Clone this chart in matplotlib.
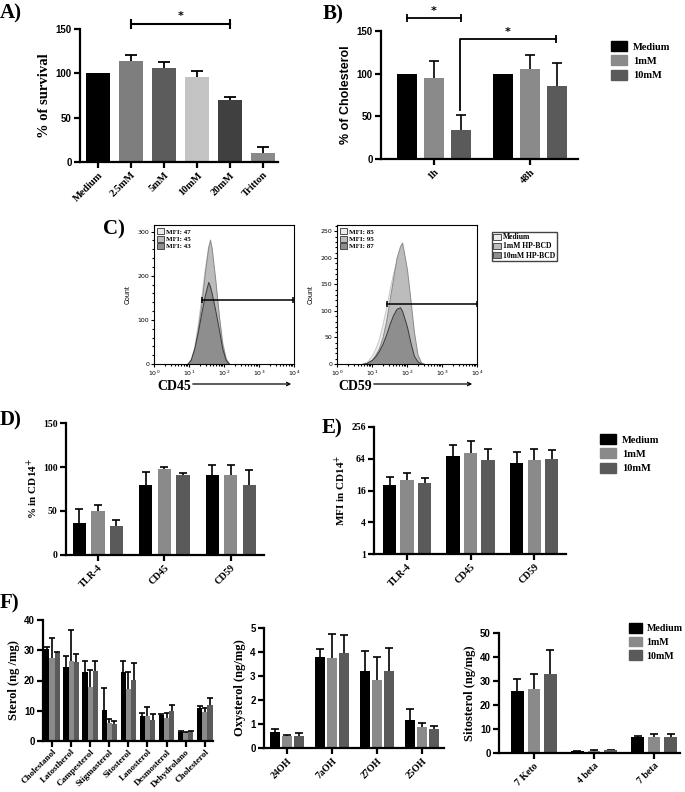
import numpy as np
import matplotlib
matplotlib.use("Agg")
from matplotlib import pyplot as plt
from matplotlib.patches import Patch, FancyArrowPatch
from matplotlib.ticker import FixedLocator, MultipleLocator, NullFormatter

SERIF = "Liberation Serif"
SANS = "Liberation Sans"

# ---- data ----
# A) survival
a_cats = ["Medium", "2.5mM", "5mM", "10mM", "20mM", "Tritton"]
a_vals = [100, 114, 106, 96, 70, 10]
a_err = [0, 7, 7, 7, 3, 7]
a_cols = ["#000000", "#7e7e7e", "#5c5c5c", "#c4c4c4", "#404040", "#8a8a8a"]

# B) cholesterol
b_cats = ["1h", "48h"]
b_medium = [100, 100]
b_1mm = [95, 106]
b_10mm = [34, 86]
b_medium_err = [0, 0]
b_1mm_err = [20, 16]
b_10mm_err = [18, 26]

series_names = ["Medium", "1mM", "10mM"]
series_cols = ["#000000", "#8a8a8a", "#5a5a5a"]

# C) flow histograms (log10 fluorescence, counts)
cd45_logx = [0.95, 1.05, 1.15, 1.25, 1.35, 1.45, 1.55, 1.6, 1.65, 1.75, 1.85, 1.95, 2.05, 2.15]
cd45_medium = [0, 12, 40, 90, 150, 215, 268, 272, 250, 185, 110, 50, 14, 0]
cd45_1mm = [0, 8, 32, 78, 135, 205, 265, 282, 262, 192, 112, 45, 11, 0]
cd45_10mm = [0, 10, 35, 72, 115, 155, 186, 176, 160, 122, 80, 35, 9, 0]
cd45_mfi = [47, 45, 43]
cd45_gate = [1.37, 3.97, 145]

cd59_logx = [0.7, 0.85, 1.0, 1.1, 1.2, 1.3, 1.4, 1.5, 1.6, 1.7, 1.8, 1.86, 1.9, 2.0, 2.1, 2.2, 2.3, 2.4, 2.5]
cd59_medium = [0, 4, 16, 30, 48, 75, 105, 140, 170, 195, 210, 214, 205, 160, 100, 50, 15, 3, 0]
cd59_1mm = [0, 2, 8, 18, 30, 50, 80, 120, 160, 200, 222, 229, 215, 178, 120, 60, 18, 3, 0]
cd59_10mm = [0, 2, 8, 15, 25, 38, 55, 75, 92, 104, 107, 100, 92, 70, 40, 15, 5, 1, 0]
cd59_mfi = [85, 95, 87]
cd59_gate = [1.44, 4.0, 113]

# D) % in CD14+
d_cats = ["TLR-4", "CD45", "CD59"]
d_medium = [36, 79, 91]
d_1mm = [50, 98, 91]
d_10mm = [33, 91, 80]
d_medium_err = [16, 15, 11]
d_1mm_err = [7, 2, 11]
d_10mm_err = [7, 2, 17]

# E) MFI in CD14+
e_medium = [20, 72, 53]
e_1mm = [25, 82, 60]
e_10mm = [22, 60, 63]
e_medium_err = [9, 44, 32]
e_1mm_err = [9, 55, 37]
e_10mm_err = [5.5, 37, 30]

# F) sterols
f1_cats = ["Cholestanol", "Latostherol", "Campesterol", "Stigmasterol", "Sitosterol",
           "Lanosterol", "Desmosterol", "Dehydrolano", "Cholesterol"]
f1_medium = [30.3, 24.5, 22.7, 10.3, 22.8, 8.1, 8.6, 3.0, 11.0]
f1_1mm = [27.5, 26.3, 17.8, 5.9, 17.2, 8.3, 7.6, 2.6, 9.5]
f1_10mm = [29.0, 26.2, 23.2, 5.6, 20.3, 7.0, 10.0, 2.9, 12.0]
f1_medium_err = [0.7, 3.5, 3.6, 7.3, 3.7, 1.2, 0.4, 0.2, 0.6]
f1_1mm_err = [6.5, 10.4, 5.8, 1.3, 5.7, 2.9, 1.7, 0.3, 1.3]
f1_10mm_err = [0.3, 2.5, 3.3, 0.9, 5.4, 2.0, 1.8, 0.5, 2.3]

f2_cats = ["24OH", "7aOH", "27OH", "25OH"]
f2_medium = [0.68, 3.8, 3.2, 1.17]
f2_1mm = [0.5, 3.75, 2.82, 0.87]
f2_10mm = [0.5, 3.95, 3.2, 0.8]
f2_medium_err = [0.12, 0.32, 0.85, 0.46]
f2_1mm_err = [0.05, 1.02, 0.98, 0.18]
f2_10mm_err = [0.12, 0.75, 0.95, 0.1]

f3_cats = ["7 Keto", "4 beta", "7 beta"]
f3_medium = [26, 0.8, 6.6]
f3_1mm = [26.5, 0.9, 6.6]
f3_10mm = [33, 1.1, 6.8]
f3_medium_err = [5, 0.2, 0.6]
f3_1mm_err = [6.3, 0.3, 1.2]
f3_10mm_err = [10, 0.3, 1.3]

# ---- figure ----
W, H = 685, 792
fig = plt.figure(figsize=(W / 100, H / 100), dpi=100)


def box(x0, x1, y0, y1):
    return [x0 / W, 1 - y1 / H, (x1 - x0) / W, (y1 - y0) / H]


def prism(ax, tickfont=SANS, tsize=7):
    for s in ["top", "right"]:
        ax.spines[s].set_visible(False)
    for s in ["left", "bottom"]:
        ax.spines[s].set_linewidth(1.6)
    ax.tick_params(direction="out", length=4, width=1.6, labelsize=tsize, pad=2)
    for lab in ax.get_yticklabels():
        lab.set_fontfamily(tickfont)
        lab.set_fontweight("bold")


def xlabels(ax, cats, size=7.5):
    ax.set_xticks(np.arange(len(cats)))
    ax.set_xticklabels(cats, rotation=45, ha="right", rotation_mode="anchor",
                       fontfamily=SERIF, fontweight="bold", fontsize=size)


def upbars(ax, xs, vals, errs, cap=6, lw=1.2):
    # GraphPad style: only the upper half of the error bar
    xs, vals, errs = np.asarray(xs), np.asarray(vals, float), np.asarray(errs, float)
    m = errs > 0
    ax.vlines(xs[m], vals[m], vals[m] + errs[m], color="black", lw=lw, zorder=1)
    ax.plot(xs[m], vals[m] + errs[m], ls="none", marker="_", ms=cap, mew=lw,
            color="black", zorder=1)


def grouped(ax, vals, errs, off, width, cap=6):
    for k in range(3):
        xs = np.arange(len(vals[k])) + (k - 1) * off
        bottom = ax.get_ylim()[0] if ax.get_yscale() == "log" else 0
        ax.bar(xs, np.array(vals[k]) - bottom, width, bottom=bottom,
               color=series_cols[k], zorder=2)
        upbars(ax, xs, vals[k], errs[k], cap)


def bold_legend(x, y, size=7.5, hl=1.5, pad=0.6):
    handles = [Patch(color=c) for c in series_cols]
    fig.legend(handles, series_names, loc="upper left", bbox_to_anchor=(x / W, 1 - y / H),
               frameon=False, handlelength=hl, handleheight=1.1, labelspacing=0.35,
               handletextpad=pad, borderpad=0,
               prop={"family": SERIF, "weight": "bold", "size": size})


def panel_label(x, y, s):
    fig.text(x / W, 1 - y / H, s, fontfamily=SERIF, fontweight="bold", fontsize=15,
             va="center", ha="left")


# A
ax = fig.add_axes(box(80, 278, 29, 162))
x = np.arange(len(a_cats))
ax.bar(x, a_vals, 0.73, color=a_cols, zorder=2)
upbars(ax, x, a_vals, a_err, cap=8, lw=1.3)
ax.set_xlim(-0.55, 5.45)
ax.set_ylim(0, 150)
ax.set_yticks([0, 50, 100, 150])
prism(ax)
xlabels(ax, a_cats)
ax.set_ylabel("% of survival", fontfamily=SERIF, fontweight="bold", fontsize=10.5, labelpad=3)
ax.plot([1, 4], [156, 156], color="black", lw=1.5, clip_on=False)
ax.plot([1, 4], [156, 156], ls="none", marker="|", ms=7, mew=1.5, color="black", clip_on=False)
ax.text(2.5, 159, "*", ha="center", va="bottom", fontsize=8, fontweight="bold")
panel_label(0, 13, "A)")

# B
ax = fig.add_axes(box(381, 578, 31, 159))
ax.set_xlim(-0.55, 1.5)
ax.set_ylim(0, 150)
grouped(ax, [b_medium, b_1mm, b_10mm], [b_medium_err, b_1mm_err, b_10mm_err], 0.28, 0.21, cap=7)
ax.set_yticks([0, 50, 100, 150])
prism(ax)
xlabels(ax, b_cats)
ax.set_ylabel("% of Cholesterol", fontfamily=SANS, fontweight="bold", fontsize=9, labelpad=3)
ax.plot([-0.28, 0.28], [165, 165], color="black", lw=1.3, clip_on=False)
ax.plot([-0.28, 0.28], [165, 165], ls="none", marker="|", ms=6, mew=1.3, color="black", clip_on=False)
ax.text(0, 167, "*", ha="center", va="bottom", fontsize=8, fontweight="bold")
ax.plot([0.27, 0.27, 1.27], [58, 141, 141], color="black", lw=1.3, clip_on=False)
ax.plot([1.27], [141], ls="none", marker="|", ms=6, mew=1.3, color="black", clip_on=False)
ax.text(0.77, 143, "*", ha="center", va="bottom", fontsize=8, fontweight="bold")
bold_legend(606, 36)
panel_label(323, 14, "B)")

# C
hist_cols = [("#ececec", "#c8c8c8"), ("#bcbcbc", "#8a8a8a"), ("#8e8e8e", "#3a3a3a")]
hist_sets = [
    (box(154, 294, 225, 364), cd45_logx, [cd45_medium, cd45_1mm, cd45_10mm], 315,
     [0, 100, 200, 300], 20, cd45_mfi, cd45_gate, "CD45", 157),
    (box(337, 477, 225, 364), cd59_logx, [cd59_medium, cd59_1mm, cd59_10mm], 262,
     [0, 50, 100, 150, 200, 250], 10, cd59_mfi, cd59_gate, "CD59", 338),
]
for pos, lx, curves, ymax, yt, ymin_step, mfi, gate, name, tx in hist_sets:
    ax = fig.add_axes(pos)
    xs = 10 ** np.array(lx)
    for counts, (fc, ec) in zip(curves, hist_cols):
        ax.fill_between(xs, counts, color=fc, edgecolor=ec, lw=0.7)
    ax.set_xscale("log")
    ax.set_xlim(1, 1e4)
    ax.set_ylim(0, ymax)
    ax.set_yticks(yt)
    ax.yaxis.set_minor_locator(MultipleLocator(ymin_step))
    ax.set_xticks([1, 10, 100, 1000, 10000])
    ax.set_xticklabels(["$10^{0}$", "$10^{1}$", "$10^{2}$", "$10^{3}$", "$10^{4}$"])
    ax.tick_params(which="both", direction="out", labelsize=4.5, width=0.8, length=2.5, pad=1)
    ax.tick_params(which="minor", length=1.5)
    for s in ax.spines.values():
        s.set_linewidth(0.8)
    ax.set_ylabel("Count", fontfamily=SANS, fontsize=5, labelpad=4)
    ax.plot([10 ** gate[0], 10 ** gate[1]], [gate[2], gate[2]], color="black", lw=1.1)
    ax.plot([10 ** gate[0], 10 ** gate[1]], [gate[2], gate[2]], ls="none", marker="|",
            ms=5, mew=1.1, color="black")
    handles = [Patch(facecolor=fc, edgecolor="#333333", lw=0.6) for fc, _ in hist_cols]
    ax.legend(handles, ["MFI: %d" % m for m in mfi], loc="upper left", frameon=False,
              handlelength=1.0, handleheight=0.9, labelspacing=0.15, handletextpad=0.2,
              borderpad=0.3, borderaxespad=0.2,
              prop={"family": SERIF, "weight": "bold", "size": 5})
    fig.text(tx / W, 1 - 386 / H, name, fontfamily=SERIF, fontweight="bold", fontsize=10,
             va="center", ha="left")
    fig.add_artist(FancyArrowPatch(
        ((tx + 33) / W, 1 - 384 / H), ((tx + 137) / W, 1 - 384 / H),
        transform=fig.transFigure, arrowstyle="->", mutation_scale=6, lw=0.9, color="black"))

leg_handles = [Patch(facecolor=fc, edgecolor="#333333", lw=0.6) for fc, _ in hist_cols]
fig.legend(leg_handles, ["Medium", "1mM HP-BCD", "10mM HP-BCD"], loc="upper left",
           bbox_to_anchor=(488 / W, 1 - 228 / H), frameon=True, fancybox=False,
           edgecolor="#444444", framealpha=1, handlelength=1.0, handleheight=0.9,
           labelspacing=0.15, handletextpad=0.3, borderpad=0.2,
           prop={"family": SERIF, "weight": "bold", "size": 5.5})
panel_label(103, 229, "C)")

# D
ax = fig.add_axes(box(66, 264, 423, 555))
ax.set_xlim(-0.48, 2.5)
ax.set_ylim(0, 150)
grouped(ax, [d_medium, d_1mm, d_10mm], [d_medium_err, d_1mm_err, d_10mm_err], 0.28, 0.2)
ax.set_yticks([0, 50, 100, 150])
prism(ax, SERIF, 7)
xlabels(ax, d_cats, 7)
ax.set_ylabel("% in CD14$^{+}$", fontfamily=SERIF, fontweight="bold", fontsize=8, labelpad=2)
panel_label(0, 420, "D)")

# E
ax = fig.add_axes(box(374, 566, 427, 554))
ax.set_yscale("log", base=2)
ax.set_ylim(1, 256)
ax.set_xlim(-0.52, 2.5)
grouped(ax, [e_medium, e_1mm, e_10mm], [e_medium_err, e_1mm_err, e_10mm_err], 0.275, 0.21)
ax.yaxis.set_major_locator(FixedLocator([1, 4, 16, 64, 256]))
ax.set_yticklabels(["1", "4", "16", "64", "256"])
ax.yaxis.set_minor_formatter(NullFormatter())
ax.tick_params(axis="y", which="minor", length=0)
prism(ax, SERIF, 7)
xlabels(ax, d_cats, 7)
ax.set_ylabel("MFI in CD14$^{+}$", fontfamily=SERIF, fontweight="bold", fontsize=8, labelpad=2)
bold_legend(595, 429)
panel_label(322, 428, "E)")

# F1
ax = fig.add_axes(box(43, 213, 620, 741))
ax.set_xlim(-0.47, 8.43)
ax.set_ylim(0, 40)
grouped(ax, [f1_medium, f1_1mm, f1_10mm], [f1_medium_err, f1_1mm_err, f1_10mm_err], 0.27, 0.27, cap=4)
ax.set_yticks([0, 10, 20, 30, 40])
prism(ax, SANS, 7)
xlabels(ax, f1_cats, 6.5)
ax.tick_params(axis="x", pad=1)
ax.set_ylabel("Sterol (ng /mg)", fontfamily=SERIF, fontweight="bold", fontsize=9, labelpad=3)
panel_label(0, 603, "F)")

# F2
ax = fig.add_axes(box(264, 444, 628, 748))
ax.set_xlim(-0.51, 3.49)
ax.set_ylim(0, 5)
grouped(ax, [f2_medium, f2_1mm, f2_10mm], [f2_medium_err, f2_1mm_err, f2_10mm_err], 0.27, 0.22)
ax.set_yticks([0, 1, 2, 3, 4, 5])
prism(ax, SANS, 7)
xlabels(ax, f2_cats, 7)
ax.set_ylabel("Oxysterol (ng/mg)", fontfamily=SERIF, fontweight="bold", fontsize=9, labelpad=3)

# F3
ax = fig.add_axes(box(499, 680, 633, 753))
ax.set_xlim(-0.58, 2.43)
ax.set_ylim(0, 50)
grouped(ax, [f3_medium, f3_1mm, f3_10mm], [f3_medium_err, f3_1mm_err, f3_10mm_err], 0.275, 0.21)
ax.set_yticks([0, 10, 20, 30, 40, 50])
prism(ax, SANS, 7)
xlabels(ax, f3_cats, 7)
ax.set_ylabel("Sitosterol (ng/mg)", fontfamily=SERIF, fontweight="bold", fontsize=9, labelpad=3)
bold_legend(624, 618, size=7.2, hl=1.3, pad=0.45)

fig.savefig("out.png", dpi=100)
